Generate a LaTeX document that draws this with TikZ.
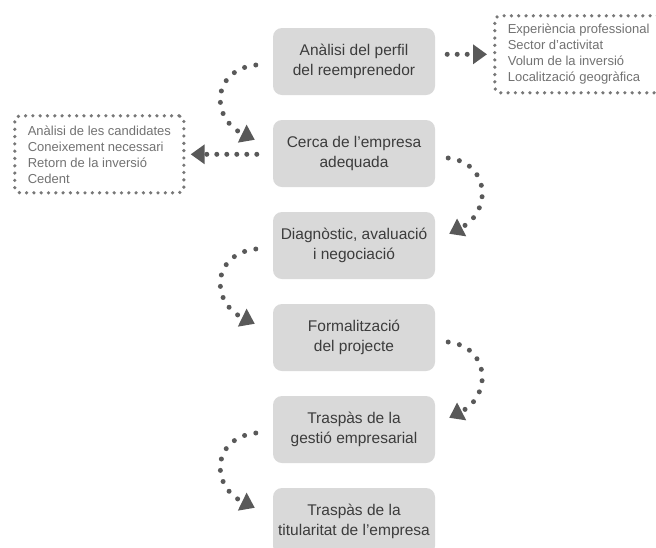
\documentclass[tikz,border=0pt]{standalone}
\usepackage{fontspec}
\setmainfont{Liberation Sans}
\usetikzlibrary{arrows.meta,calc}
\definecolor{boxfill}{HTML}{D9D9D9}
\definecolor{boxtext}{HTML}{3C3C3C}
\definecolor{dotcol}{HTML}{595959}
\definecolor{sidetext}{HTML}{727272}
\definecolor{sidedot}{HTML}{777777}
\begin{document}
\begin{tikzpicture}[x=1pt,y=-1pt,
  stepbox/.style={fill=boxfill, rounded corners=9pt, minimum width=162pt, minimum height=67pt,
    align=center, text=boxtext, font=\fontsize{15.5}{20}\selectfont, inner sep=0pt},
  sidebox/.style={draw=sidedot, line width=3.6pt, dash pattern=on 0pt off 7.3pt, line cap=round,
    rounded corners=5pt, minimum height=77pt, minimum width=167pt, align=left, text=sidetext,
    font=\fontsize{13}{16}\selectfont, inner xsep=13pt, anchor=north west},
  dotarrow/.style={draw=dotcol, line width=5pt, line cap=round, dash pattern=on 0pt off 11.5pt,
    -{Triangle[length=14pt,width=19pt]}},
  harrow/.style={dotarrow, dash pattern=on 0pt off 10pt}]
\clip (0,0) rectangle (656,547);
\fill[white] (0,0) rectangle (656,547);

\node[stepbox] (b1) at (354,61.5) {Anàlisi del perfil\\del reemprenedor};
\node[stepbox] (b2) at (354,153.5) {Cerca de l’empresa\\adequada};
\node[stepbox] (b3) at (354,245.5) {Diagnòstic, avaluació\\i negociació};
\node[stepbox] (b4) at (354,337.5) {Formalització\\del projecte};
\node[stepbox] (b5) at (354,429.5) {Traspàs de la\\gestió empresarial};
\node[stepbox] (b6) at (354,521.5) {Traspàs de la\\titularitat de l’empresa};

\node[sidebox] (sr) at (493,14) {Experiència professional\\Sector d’activitat\\Volum de la inversió\\Localització geogràfica};
\node[sidebox] (sl) at (13,114) {Anàlisi de les candidates\\Coneixement necessari\\Retorn de la inversió\\Cedent};

% horizontal arrows
\draw[harrow, shorten >=6pt] ($(b1.east |- sr.west)+(12,0)$) -- (sr.west);
\draw[harrow, shorten >=5pt] ($(b2.west |- sl.east)+(-16,0)$) -- (sl.east);

% left curved arrows
\foreach \a/\b in {b1/b2,b3/b4,b5/b6}{
  \draw[dotarrow] ($(\a.west)+(-17,3.5)$) .. controls +(-44,5) and +(-45,-22) .. ($(\b.north west)+(-18,20)$);
}
% right curved arrows
\foreach \a/\b in {b2/b3,b4/b5}{
  \draw[dotarrow] ($(\a.east)+(13,4.5)$) .. controls +(42,5) and +(43,-22) .. ($(\b.north east)+(14,22)$);
}
\end{tikzpicture}
\end{document}
